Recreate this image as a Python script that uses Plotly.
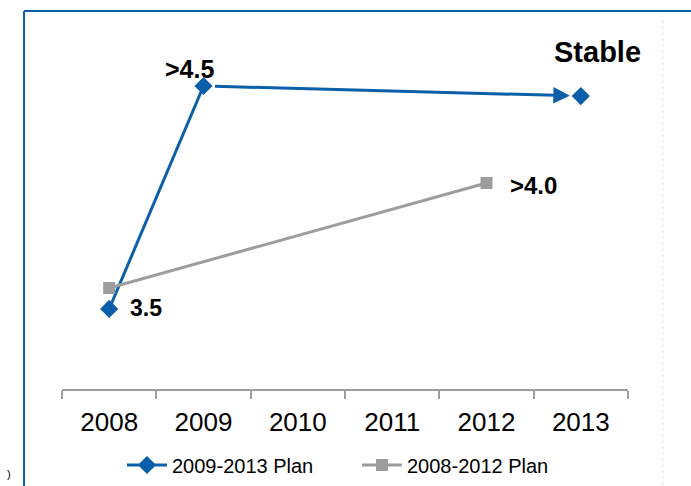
import plotly.graph_objects as go

# ---- data ----
categories = ["2008", "2009", "2010", "2011", "2012", "2013"]
plan_0913_years = ["2008", "2009"]
plan_0913_values = [3.5, 4.5]
plan_0913_end_year = "2013"
plan_0913_end_value = 4.455
plan_0812_years = ["2008", "2012"]
plan_0812_values = [3.594, 4.065]
label_0913 = ["3.5", ">4.5"]
label_0812_end = ">4.0"
label_stable = "Stable"

BLUE = "#0b5ea8"
GRAY = "#9d9d9d"
FONT = "Liberation Sans, Arial, Helvetica, sans-serif"

def idx(year):
    return categories.index(year)

fig = go.Figure()

fig.add_trace(go.Scatter(
    x=plan_0913_years, y=plan_0913_values, mode="lines+markers",
    name="2009-2013 Plan",
    line=dict(color=BLUE, width=3),
    marker=dict(symbol="diamond", size=14, color=BLUE),
))
fig.add_trace(go.Scatter(
    x=plan_0812_years, y=plan_0812_values, mode="lines+markers",
    name="2008-2012 Plan",
    line=dict(color=GRAY, width=3),
    marker=dict(symbol="square", size=12, color=GRAY),
))
fig.add_trace(go.Scatter(
    x=[plan_0913_end_year], y=[plan_0913_end_value], mode="markers",
    showlegend=False,
    marker=dict(symbol="diamond", size=14, color=BLUE),
))

annotations = []
# arrow from the 2009 point towards the 2013 point
annotations.append(dict(
    x=idx(plan_0913_end_year), y=plan_0913_end_value, xref="x", yref="y",
    ax=idx(plan_0913_years[1]), ay=plan_0913_values[1], axref="x", ayref="y",
    showarrow=True, arrowhead=2, arrowsize=1.1, arrowwidth=3,
    arrowcolor=BLUE, standoff=11, startstandoff=10, text=" ",
    font=dict(size=1),
))
annotations.append(dict(
    x=idx(plan_0913_years[0]), y=plan_0913_values[0], xref="x", yref="y",
    text="<b>%s</b>" % label_0913[0],
    showarrow=False, xshift=37, yshift=1, font=dict(family=FONT, size=23, color="black"),
))
annotations.append(dict(
    x=idx(plan_0913_years[1]), y=plan_0913_values[1], xref="x", yref="y",
    text="<b>%s</b>" % label_0913[1],
    showarrow=False, xshift=-14, yshift=17, font=dict(family=FONT, size=25, color="black"),
))
annotations.append(dict(
    x=idx(plan_0812_years[1]), y=plan_0812_values[1], xref="x", yref="y",
    text="<b>%s</b>" % label_0812_end,
    showarrow=False, xshift=47, yshift=-3, font=dict(family=FONT, size=24, color="black"),
))
annotations.append(dict(
    x=idx(plan_0913_end_year), y=plan_0913_end_value, xref="x", yref="y",
    text="<b>%s</b>" % label_stable,
    showarrow=False, xshift=17, yshift=44, font=dict(family=FONT, size=29, color="black"),
))
annotations.append(dict(
    x=-0.1007, y=-0.252, xref="paper", yref="paper", text=")",
    showarrow=False, font=dict(family=FONT, size=11, color="black"),
))

shapes = [
    # outer blue frame (left and top edges visible)
    dict(type="line", xref="paper", yref="paper", x0=-0.0671, x1=-0.0671, y0=1.0244, y1=-0.35,
         line=dict(color=BLUE, width=2)),
    dict(type="line", xref="paper", yref="paper", x0=-0.0671, x1=1.2, y0=1.0244, y1=1.0244,
         line=dict(color=BLUE, width=2)),
    dict(type="line", xref="paper", yref="paper", x0=1.0618, x1=1.0618, y0=1.0, y1=-0.35,
         line=dict(color="#e2e2e2", width=1, dash="dot")),
]

fig.update_layout(
    width=691, height=486,
    margin=dict(l=62, r=63, t=20, b=97, autoexpand=False),
    paper_bgcolor="white", plot_bgcolor="white",
    showlegend=True,
    legend=dict(orientation="h", x=0.106, xanchor="left", y=-0.206, yanchor="middle",
                font=dict(family=FONT, size=20, color="black"), itemwidth=40,
                entrywidth=180, entrywidthmode="pixels",
                bgcolor="rgba(0,0,0,0)"),
    annotations=annotations,
    shapes=shapes,
    xaxis=dict(
        type="category", categoryorder="array", categoryarray=categories,
        tickvals=categories, range=[-0.5, 5.5], automargin=False,
        showline=True, linecolor=GRAY, linewidth=2,
        ticks="outside", tickson="boundaries", ticklen=8, tickwidth=2, tickcolor=GRAY,
        tickfont=dict(family=FONT, size=26, color="black"),
        ticklabelstandoff=9,
        showgrid=False, zeroline=False, fixedrange=True,
    ),
    yaxis=dict(range=[3.141, 4.796], visible=False, showgrid=False, zeroline=False),
)

fig.write_html("out.html")
